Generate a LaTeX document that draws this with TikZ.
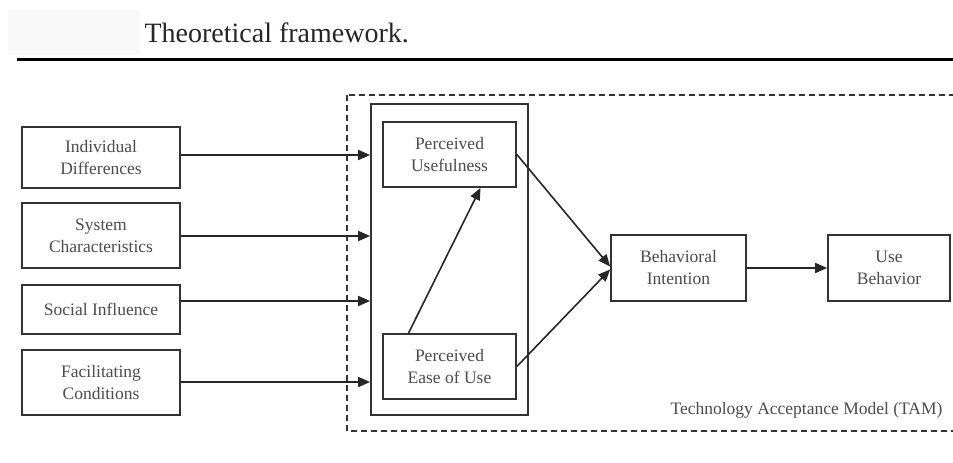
\documentclass[tikz,border=0pt]{standalone}
\usepackage{fontspec}
\setmainfont{Liberation Serif}
\usetikzlibrary{arrows.meta}

\tikzset{
    factor/.style={draw=black!80, line width=1.7pt, fill=white, text=black!70,
        align=center, inner sep=2pt, font=\fontsize{17.5}{22}\selectfont},
    link/.style={draw=black!85, line width=1.6pt, -{Triangle[length=12pt,width=10pt]}}
}

\begin{document}
\begin{tikzpicture}[x=1pt, y=-1pt]
    \useasboundingbox (0,0) rectangle (953,463);
    \fill[white] (0,0) rectangle (953,463);
    \fill[black!2.5] (8,10) rectangle (140,55);

    % heading
    \node[anchor=west, font=\fontsize{28}{32}\selectfont, text=black!85] (heading) at (141,33) {Theoretical framework.};
    \coordinate (ruleL) at (17,59);
    \coordinate (ruleR) at (953,59);
    \draw[line width=3pt] (ruleL) -- (ruleR);

    % model boundary
    \begin{scope}
        \clip (0,0) rectangle (953,463);
        \draw[black!80, line width=1.6pt, dash pattern=on 6pt off 4pt] (347,95) rectangle (970,431);
    \end{scope}
    \node[anchor=east, text=black!70, font=\fontsize{17.5}{22}\selectfont] (tam) at (946,410) {Technology Acceptance Model (TAM)};

    % external factors
    \node[factor, minimum width=158pt, minimum height=61pt] (indiv) at (101,157.5) {Individual\\Differences};
    \node[factor, minimum width=158pt, minimum height=65pt] (system) at (101,235.5) {System\\Characteristics};
    \node[factor, minimum width=158pt, minimum height=49pt] (social) at (101,309.5) {Social Influence};
    \node[factor, minimum width=158pt, minimum height=65pt] (facil) at (101,382.5) {Facilitating\\Conditions};

    % perceptions
    \node[draw=black!80, line width=1.7pt, minimum width=157pt, minimum height=311pt] (core) at (449.5,259.5) {};
    \node[factor, minimum width=133pt, minimum height=65pt] (useful) at (449.5,154.5) {Perceived\\Usefulness};
    \node[factor, minimum width=133pt, minimum height=65pt] (ease) at (449.5,366.5) {Perceived\\Ease of Use};

    % outcomes
    \node[factor, minimum width=135pt, minimum height=66pt] (intent) at (678.5,268) {Behavioral\\Intention};
    \node[factor, minimum width=122pt, minimum height=66pt] (usebeh) at (889,268) {Use\\Behavior};

    \foreach \src/\yy in {indiv/155, system/236, social/301, facil/382} {
        \draw[link] (\src.east |- 0,\yy) -- (core.west |- 0,\yy);
    }
    \draw[link] ([xshift=-41pt]ease.north) -- ([xshift=31pt]useful.south);
    \draw[link] (useful.east) -- ([yshift=1.5pt]intent.west);
    \draw[link] (ease.east) -- ([yshift=-1.5pt]intent.west);
    \draw[link] (intent.east) -- (usebeh.west);
\end{tikzpicture}
\end{document}
